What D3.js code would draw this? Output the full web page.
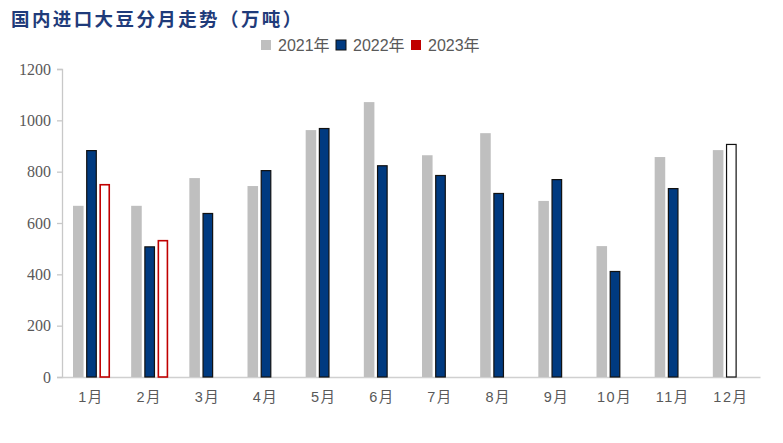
<!DOCTYPE html>
<html><head><meta charset="utf-8">
<script src="https://cdn.jsdelivr.net/npm/d3@7"></script>
<style>body{margin:0;background:#fff;}svg{display:block;}
.ytick text{font-family:"Liberation Serif","Times New Roman","DejaVu Serif",serif !important;font-size:16px;}
</style>
</head><body>
<svg id="c" width="783" height="443"></svg>
<script>
const months = ["1月","2月","3月","4月","5月","6月","7月","8月","9月","10月","11月","12月"];
const series = ["2021年","2022年","2023年"];
const v2021 = [667, 667, 775, 744, 962, 1071, 864, 950, 686, 510, 857, 884];
const v2022 = [884, 509, 639, 806, 970, 825, 787, 717, 771, 413, 736, 908];
const v2023 = [752, 534];
const yTicks = [0, 200, 400, 600, 800, 1000, 1200];
const estimated2022 = [11]; // outlined bar index

const svg = d3.select("#c");
const L = 62, R = 760, T = 69, B = 377;
const x = d3.scaleBand().domain(months).range([L, R]);
const y = d3.scaleLinear().domain([0, 1200]).range([B, T]);
const slot = d3.scaleBand().domain(series).range([11, 48]).paddingInner(0.2);

svg.append("text").attr("x", 11).attr("y", 26)
  .style("font-family", "'Noto Sans CJK SC'").style("font-weight", "bold")
  .style("font-size", "18.5px").attr("fill", "#1f3b7a").style("letter-spacing", "2.4px")
  .text("国内进口大豆分月走势（万吨）");

// legend
const colors = ["#bfbfbf", "#003a80", "#c00000"];
const lx = [261, 336, 411];
series.forEach((s, i) => {
  svg.append("rect").attr("x", lx[i]).attr("y", 40).attr("width", 10).attr("height", 10)
    .attr("fill", colors[i]).attr("stroke", i === 1 ? "#111" : "none").attr("stroke-width", 1);
  svg.append("text").attr("x", lx[i] + 17).attr("y", 51)
    .style("font-family", "'Liberation Sans', 'Noto Sans CJK SC'").style("font-size", "16px")
    .attr("fill", "#595959").text(s);
});

// y axis
const ya = svg.append("g").attr("class", "ytick").attr("transform", `translate(${L},0)`)
  .call(d3.axisLeft(y).tickValues(yTicks).tickFormat(d3.format("d")).tickSize(5).tickPadding(6));
ya.attr("font-family", null);
ya.select(".domain").attr("stroke", "#c8c8c8").attr("stroke-width", 1.3);
ya.selectAll(".tick line").attr("stroke", "#c8c8c8").attr("stroke-width", 1.3);
ya.selectAll("text").attr("fill", "#595959");

// x axis
const xa = svg.append("g").attr("transform", `translate(0,${B})`)
  .call(d3.axisBottom(x).tickSize(0).tickPadding(15));
xa.select(".domain").attr("stroke", "#d0d0d0").attr("stroke-width", 1.3);
xa.selectAll("text").style("font-family", "'Liberation Sans', 'Noto Sans CJK SC'")
  .style("font-size", "14.5px").attr("fill", "#595959").style("letter-spacing", "1.5px");

const g = svg.append("g");
g.selectAll(".b21").data(v2021).join("rect")
  .attr("x", (d, i) => x(months[i]) + slot(series[0]))
  .attr("width", slot.bandwidth()).attr("y", d => y(d)).attr("height", d => B - y(d))
  .attr("fill", colors[0]);
g.selectAll(".b22").data(v2022).join("rect")
  .attr("x", (d, i) => x(months[i]) + slot(series[1]) + 0.5)
  .attr("width", slot.bandwidth() - 1).attr("y", d => y(d) + 0.5).attr("height", d => B - y(d) - 0.5)
  .attr("fill", (d, i) => estimated2022.includes(i) ? "#fff" : colors[1])
  .attr("stroke", "#111").attr("stroke-width", 1.2);
g.selectAll(".b23").data(v2023).join("rect")
  .attr("x", (d, i) => x(months[i]) + slot(series[2]) + 0.75)
  .attr("width", slot.bandwidth() - 1.5).attr("y", d => y(d) + 0.75).attr("height", d => B - y(d) - 0.75)
  .attr("fill", "#fff").attr("stroke", colors[2]).attr("stroke-width", 1.6);
</script>
</body></html>
